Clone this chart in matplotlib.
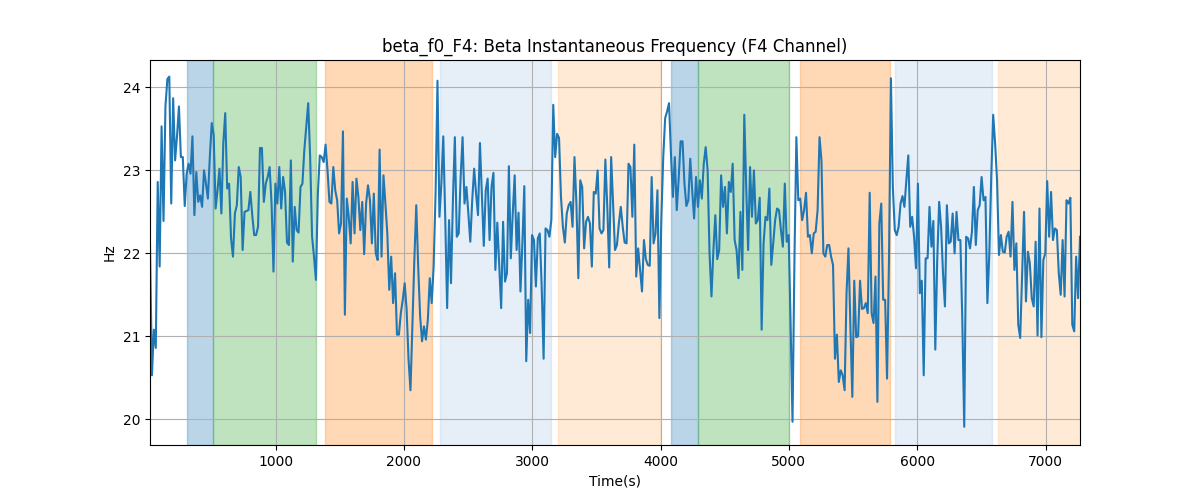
import numpy as np
import matplotlib
matplotlib.use("Agg")
import matplotlib.pyplot as plt

# Beta instantaneous frequency (Hz) in chunks
seg1 = [22.10, 20.53, 21.08, 20.86, 22.86, 21.84, 23.53, 22.39, 23.77, 24.10,
        24.13, 22.60, 23.87, 23.12, 23.41, 23.77, 23.16, 23.16, 22.57, 22.96,
        23.08, 22.96, 23.41, 22.46, 22.98, 22.62, 22.70, 22.56, 23.00, 22.84,
        22.66, 23.16, 23.57, 23.43, 22.54, 22.76, 23.02, 22.48, 23.33, 23.69,
        22.78, 22.84, 22.18, 21.96, 22.48, 22.58, 23.04, 22.92, 22.04, 22.50,
        22.51, 22.52, 22.74, 22.46, 22.22, 22.22, 22.32, 23.27, 23.27, 22.62,
        22.84]
seg2 = [22.92, 23.04, 22.60, 21.78, 22.84, 22.60, 23.04, 22.54, 22.92, 22.74,
        22.13, 22.10, 23.12, 21.90, 22.56, 22.28, 22.25, 22.80, 22.84, 23.25,
        23.53, 23.81, 23.16, 22.20, 21.96, 21.68, 22.72, 23.18, 23.16, 23.10,
        23.31, 23.00, 22.62, 22.60, 23.04, 22.76, 22.64, 22.24, 22.36, 23.47,
        21.26, 22.66, 22.44, 22.12, 22.86, 22.24, 22.90, 22.68, 22.28, 22.62,
        21.99, 22.60, 22.82, 22.64, 22.12, 22.72, 22.00, 21.92, 23.25, 21.96,
        22.94]
seg3 = [22.60, 22.24, 21.56, 21.96, 21.40, 21.76, 21.02, 21.02, 21.28, 21.44,
        21.64, 21.32, 20.72, 20.35, 21.12, 21.92, 22.58, 21.84, 21.24, 20.94,
        21.12, 20.96, 21.20, 21.70, 21.40, 21.84, 22.72, 24.08, 22.44, 22.84,
        23.41, 22.44, 21.34, 22.40, 21.64, 22.64, 23.40, 22.20, 22.24, 22.92,
        23.40, 22.60, 22.80, 22.48, 22.14, 22.64, 23.02, 22.72, 22.46, 23.33,
        22.72, 22.09, 22.76, 22.90, 22.16, 22.80, 22.97, 21.80, 22.37, 21.84,
        21.34]
seg4 = [22.38, 21.66, 21.76, 23.05, 21.94, 22.48, 22.94, 22.04, 22.49, 21.54,
        22.12, 22.81, 20.70, 21.44, 21.04, 22.22, 22.16, 21.60, 22.18, 22.24,
        21.60, 20.73, 22.30, 22.28, 22.20, 22.40, 23.79, 23.16, 23.44, 23.39,
        22.68, 22.32, 22.13, 22.48, 22.58, 22.62, 22.32, 23.16, 22.60, 21.70,
        22.88, 22.80, 22.06, 22.38, 22.44, 22.36, 21.84, 22.74, 22.72, 23.00,
        22.30, 22.24, 22.28, 23.13, 22.56, 21.83, 23.16, 22.60, 22.04, 22.10,
        22.36]
seg5 = [22.56, 22.32, 22.13, 22.12, 23.08, 23.04, 22.44, 23.31, 21.72, 22.06,
        21.80, 21.54, 22.16, 21.93, 21.86, 21.85, 22.92, 22.12, 22.24, 22.76,
        21.22, 22.40, 23.16, 23.63, 23.71, 23.81, 23.20, 22.68, 23.16, 22.52,
        22.90, 23.35, 23.35, 22.84, 22.57, 22.64, 23.14, 22.76, 22.42, 22.92,
        22.56, 22.88, 22.66, 23.08, 23.28, 23.00, 22.00, 21.48, 22.04, 22.46,
        21.93, 22.04, 22.94, 22.56, 22.80, 22.24, 22.86, 22.74, 23.08, 22.16,
        22.04]
seg6 = [21.70, 22.50, 21.80, 23.67, 22.80, 22.04, 23.04, 22.44, 23.00, 22.36,
        22.40, 22.67, 21.08, 22.12, 22.44, 22.40, 22.78, 21.86, 22.12, 22.40,
        22.54, 22.52, 22.28, 22.08, 22.84, 22.14, 22.22, 21.16, 19.97, 21.92,
        23.40, 22.64, 22.66, 22.40, 22.52, 22.73, 22.20, 22.22, 22.00, 22.24,
        22.26, 22.52, 23.40, 23.12, 22.00, 21.96, 22.10, 22.10, 21.96, 21.86,
        20.73, 21.02, 20.45, 20.59, 20.53, 20.35, 21.52, 22.06, 21.12, 20.27]
seg7 = [21.67, 20.99, 21.00, 21.67, 21.33, 21.34, 21.40, 21.28, 22.73, 21.28,
        21.16, 21.72, 20.21, 22.36, 22.60, 21.44, 21.44, 20.49, 21.92, 24.11,
        22.80, 22.28, 22.22, 22.32, 22.60, 22.69, 22.56, 22.88, 23.18, 22.32,
        22.44, 22.20, 21.82, 22.84, 21.52, 21.67, 20.53, 21.94, 21.94, 22.56,
        22.08, 22.39, 20.84, 21.92, 22.62, 22.32, 21.76, 21.36, 22.58, 22.12,
        22.14, 22.48, 22.00, 22.50, 22.16, 22.16, 21.20, 19.91, 22.20, 22.18,
        22.06]
seg8 = [22.26, 22.80, 22.10, 22.52, 22.58, 22.92, 22.64, 22.68, 21.40, 22.00,
        22.92, 23.67, 23.33, 22.88, 21.98, 22.22, 22.02, 22.01, 22.20, 22.26,
        21.96, 22.62, 21.80, 22.12, 21.14, 20.98, 21.76, 22.50, 21.42, 22.02,
        21.88, 21.46, 21.36, 22.14, 21.01, 22.54, 20.99, 21.92, 22.00, 22.87,
        22.20, 22.74, 22.16, 22.30, 22.28, 21.76, 21.50, 22.16, 21.48, 22.64,
        22.60, 22.67, 21.14, 21.06, 21.96, 21.46, 22.20]

t_start, t_end = 22, 7268

# Shaded phases: (start, end, colour)
span_starts = [307, 512, 1382, 2279, 3202, 4081, 4294, 5090, 5828, 6632]
span_ends = [512, 1316, 2221, 3150, 3998, 4294, 5001, 5789, 6584, 7400]
span_colors = ["#1f77b4", "#2ca02c", "#ff7f0e", "#aec7e8", "#ffbb78",
               "#1f77b4", "#2ca02c", "#ff7f0e", "#aec7e8", "#ffbb78"]

values = np.array(seg1 + seg2 + seg3 + seg4 + seg5 + seg6 + seg7 + seg8)
times = np.linspace(t_start, t_end, len(values))

fig, ax = plt.subplots(figsize=(12, 5), dpi=100)
for s, e, c in zip(span_starts, span_ends, span_colors):
    ax.axvspan(s, e, color=c, alpha=0.3)
ax.plot(times, values, color="#1f77b4", linewidth=1.5)
ax.set_xlim(times[0], times[-1])
ax.set_ylim(19.69, 24.33)
ax.set_yticks([20, 21, 22, 23, 24])
ax.grid(True)
ax.set_title("beta_f0_F4: Beta Instantaneous Frequency (F4 Channel)")
ax.set_xlabel("Time(s)")
ax.set_ylabel("Hz")
fig.savefig("out.png", dpi=100)
